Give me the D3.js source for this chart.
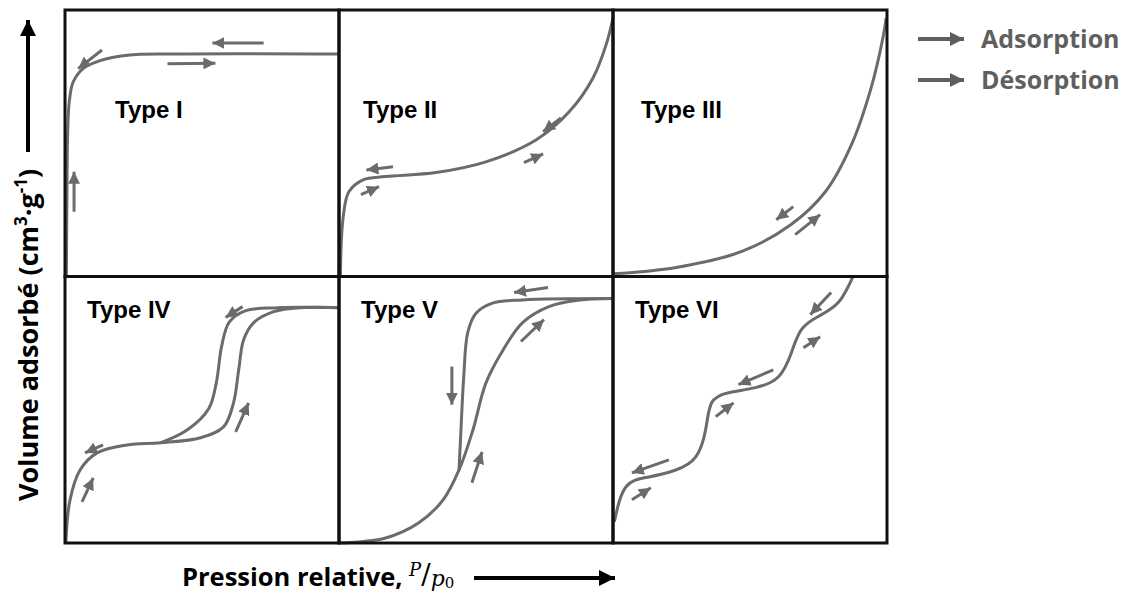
<!DOCTYPE html>
<html lang="fr">
<head>
<meta charset="UTF-8">
<title>Isothermes</title>
<script src="https://d3js.org/d3.v7.min.js"></script>
<style>
  body { margin: 0; background: #fff; }
  svg { display: block; }
</style>
</head>
<body>
<div id="chart"></div>
<script>
// panel titles, row-major
const typeNames = ["Type I", "Type II", "Type III", "Type IV", "Type V", "Type VI"];
const legendLabels = ["Adsorption", "Désorption"];
const xTitle = "Pression relative, ";
const yTitle = "Volume adsorbé (cm";

// isotherm branches in relative units (p/p0, normalised volume)
const typeI = [[0.005, 0], [0.007, 0.3], [0.01, 0.55], [0.016, 0.66], [0.03, 0.73], [0.066, 0.78], [0.128, 0.81], [0.227, 0.83], [0.4, 0.835], [1, 0.835]];
const typeII = [[0.005, 0], [0.015, 0.22], [0.036, 0.318], [0.088, 0.363], [0.17, 0.375], [0.354, 0.39], [0.536, 0.43], [0.72, 0.513], [0.84, 0.618], [0.927, 0.745], [0.975, 0.87], [1.0, 0.97]];
const typeIII = [[0, 0.01], [0.23, 0.034], [0.47, 0.094], [0.65, 0.195], [0.775, 0.318], [0.87, 0.494], [0.942, 0.708], [0.985, 0.895], [0.997, 0.97]];
const typeIVAds = [[0.003, 0], [0.018, 0.16], [0.055, 0.274], [0.117, 0.338], [0.227, 0.368], [0.348, 0.376], [0.495, 0.395], [0.579, 0.436], [0.615, 0.526], [0.634, 0.65], [0.652, 0.763], [0.689, 0.827], [0.762, 0.868], [0.861, 0.883], [1, 0.883]];
const typeIVDes = [[1, 0.883], [0.777, 0.883], [0.66, 0.872], [0.6, 0.83], [0.572, 0.74], [0.552, 0.6], [0.525, 0.505], [0.447, 0.425], [0.348, 0.376]];
const typeVAds = [[0.003, 0], [0.17, 0.019], [0.29, 0.075], [0.38, 0.162], [0.438, 0.274], [0.489, 0.425], [0.536, 0.6], [0.6, 0.726], [0.67, 0.827], [0.766, 0.887], [0.865, 0.91], [1, 0.917]];
const typeVDes = [[1, 0.917], [0.67, 0.912], [0.56, 0.9], [0.5, 0.862], [0.47, 0.79], [0.455, 0.62], [0.444, 0.4], [0.438, 0.274]];
const typeVI = [[0.005, 0.08], [0.047, 0.21], [0.131, 0.248], [0.229, 0.274], [0.302, 0.323], [0.338, 0.425], [0.36, 0.526], [0.422, 0.564], [0.52, 0.583], [0.604, 0.624], [0.651, 0.714], [0.687, 0.8], [0.749, 0.85], [0.822, 0.902], [0.876, 1.0]];

// direction arrows: [x1, y1, x2, y2] (tip at x2, y2)
const arrowsI = [[0.033, 0.243, 0.033, 0.393], [0.135, 0.85, 0.048, 0.78], [0.374, 0.798, 0.549, 0.8], [0.725, 0.876, 0.538, 0.876]];
const arrowsII = [[0.197, 0.412, 0.1, 0.4], [0.08, 0.307, 0.146, 0.337], [0.81, 0.595, 0.745, 0.543], [0.675, 0.427, 0.745, 0.46]];
const arrowsIII = [[0.658, 0.262, 0.596, 0.213], [0.665, 0.157, 0.756, 0.232]];
const arrowsIV = [[0.648, 0.887, 0.586, 0.846], [0.623, 0.417, 0.67, 0.526], [0.139, 0.368, 0.073, 0.338], [0.062, 0.154, 0.103, 0.244]];
const arrowsV = [[0.763, 0.959, 0.639, 0.94], [0.664, 0.756, 0.748, 0.838], [0.412, 0.662, 0.412, 0.519], [0.485, 0.226, 0.522, 0.342]];
const arrowsVI = [[0.796, 0.94, 0.72, 0.857], [0.695, 0.733, 0.756, 0.774], [0.585, 0.65, 0.458, 0.594], [0.375, 0.474, 0.44, 0.526], [0.204, 0.312, 0.069, 0.263], [0.069, 0.162, 0.138, 0.207]];

const panels = [
  { name: typeNames[0], curves: [typeI], arrows: arrowsI },
  { name: typeNames[1], curves: [typeII], arrows: arrowsII },
  { name: typeNames[2], curves: [typeIII], arrows: arrowsIII },
  { name: typeNames[3], curves: [typeIVAds, typeIVDes], arrows: arrowsIV },
  { name: typeNames[4], curves: [typeVAds, typeVDes], arrows: arrowsV },
  { name: typeNames[5], curves: [typeVI], arrows: arrowsVI, smooth: true }
];

const W = 1123, H = 598;
const grey = "#6b6b6b";

const svg = d3.select("#chart").append("svg")
  .attr("width", W)
  .attr("height", H);

const defs = svg.append("defs");
const addHead = (id, size, color) => {
  defs.append("marker")
    .attr("id", id)
    .attr("markerUnits", "userSpaceOnUse")
    .attr("viewBox", "0 0 10 10")
    .attr("refX", 10).attr("refY", 5)
    .attr("markerWidth", size[0]).attr("markerHeight", size[1])
    .attr("orient", "auto")
    .append("path").attr("d", "M0,0L10,5L0,10Z").attr("fill", color);
};
addHead("headGrey", [12, 12], grey);
addHead("headLegend", [15, 14], "#5f5f5f");
addHead("headBlack", [16, 16], "#000");

// grid of panels
const colX = d3.scaleLinear().domain([0, 3]).range([65, 887]);
const rowY = d3.scaleLinear().domain([0, 2]).range([10, 543]);

const line = d3.line().curve(d3.curveCatmullRom.alpha(0.5));
const smoothLine = d3.line().curve(d3.curveNatural);

panels.forEach((p, i) => {
  const c = i % 3, r = Math.floor(i / 3);
  const x0 = colX(c), x1 = colX(c + 1), y0 = rowY(r), y1 = rowY(r + 1);
  const x = d3.scaleLinear().domain([0, 1]).range([x0, x1]);
  const y = d3.scaleLinear().domain([0, 1]).range([y1, y0]);
  const gen = p.smooth ? smoothLine : line;

  const g = svg.append("g");

  g.selectAll("path.curve")
    .data(p.curves)
    .join("path")
    .attr("class", "curve")
    .attr("fill", "none")
    .attr("stroke", grey)
    .attr("stroke-width", 3)
    .attr("d", d => gen(d.map(v => [x(v[0]), y(v[1])])));

  g.selectAll("line.arrow")
    .data(p.arrows)
    .join("line")
    .attr("class", "arrow")
    .attr("x1", d => x(d[0])).attr("y1", d => y(d[1]))
    .attr("x2", d => x(d[2])).attr("y2", d => y(d[3]))
    .attr("stroke", grey)
    .attr("stroke-width", 3)
    .attr("marker-end", "url(#headGrey)");

  g.append("text")
    .attr("x", x(0) + (r === 0 ? (c === 0 ? 50 : c === 1 ? 24 : 28) : 22))
    .attr("y", r === 0 ? y0 + 108 : y0 + 41)
    .attr("font-family", "Liberation Sans, Arial, sans-serif")
    .attr("font-weight", "bold")
    .attr("font-size", 24)
    .attr("fill", "#000")
    .text(p.name);
});

// panel frames
const cells = d3.range(6);
svg.selectAll("rect.frame")
  .data(cells)
  .join("rect")
  .attr("class", "frame")
  .attr("x", d => colX(d % 3))
  .attr("y", d => rowY(Math.floor(d / 3)))
  .attr("width", colX(1) - colX(0))
  .attr("height", rowY(1) - rowY(0))
  .attr("fill", "none")
  .attr("stroke", "#111")
  .attr("stroke-width", 3);

// legend
const legend = svg.append("g").attr("transform", "translate(918,39)");
legend.selectAll("g")
  .data(legendLabels)
  .join("g")
  .attr("transform", (d, i) => `translate(0,${i * 41})`)
  .each(function(d) {
    const lg = d3.select(this);
    lg.append("line")
      .attr("x1", 0).attr("y1", 0).attr("x2", 46).attr("y2", 0)
      .attr("stroke", "#5f5f5f").attr("stroke-width", 4)
      .attr("marker-end", "url(#headLegend)");
    lg.append("text")
      .attr("x", 63).attr("y", 9)
      .attr("font-family", "Open Sans, sans-serif")
      .attr("font-weight", "bold")
      .attr("font-size", 25)
      .attr("fill", "#5f5f5f")
      .text(d);
  });

// x axis title with arrow
const xt = svg.append("text")
  .attr("x", 182).attr("y", 586)
  .attr("font-family", "Open Sans, sans-serif")
  .attr("font-weight", "bold")
  .attr("font-size", 25.5)
  .attr("fill", "#000");
xt.append("tspan").text(xTitle);
xt.append("tspan")
  .attr("font-family", "DejaVu Serif, serif").attr("font-style", "italic").attr("font-weight", "normal")
  .attr("font-size", 18).attr("dy", -10).text("P");
xt.append("tspan")
  .attr("font-family", "DejaVu Serif, serif").attr("font-weight", "normal")
  .attr("font-size", 28).attr("dy", 8).text("/");
xt.append("tspan")
  .attr("font-family", "DejaVu Serif, serif").attr("font-style", "italic").attr("font-weight", "normal")
  .attr("font-size", 22).attr("dy", 2).text("p");
xt.append("tspan")
  .attr("font-family", "DejaVu Serif, serif").attr("font-weight", "normal")
  .attr("font-size", 15).attr("dy", 2).text("0");

svg.append("line")
  .attr("x1", 474).attr("y1", 578).attr("x2", 615).attr("y2", 578)
  .attr("stroke", "#000").attr("stroke-width", 4)
  .attr("marker-end", "url(#headBlack)");

// y axis title with arrow
const yt = svg.append("text")
  .attr("transform", "translate(38,501) rotate(-90)")
  .attr("font-family", "Open Sans, sans-serif")
  .attr("font-weight", "bold")
  .attr("font-size", 27)
  .attr("fill", "#000");
yt.append("tspan").text(yTitle);
yt.append("tspan").attr("font-size", 17).attr("dy", -11).text("3");
yt.append("tspan").attr("dy", 11).text("·g");
yt.append("tspan").attr("font-size", 17).attr("dy", -11).text("-1");
yt.append("tspan").attr("dy", 11).text(")");

svg.append("line")
  .attr("x1", 28).attr("y1", 152).attr("x2", 28).attr("y2", 20)
  .attr("stroke", "#000").attr("stroke-width", 4)
  .attr("marker-end", "url(#headBlack)");
</script>
</body>
</html>
